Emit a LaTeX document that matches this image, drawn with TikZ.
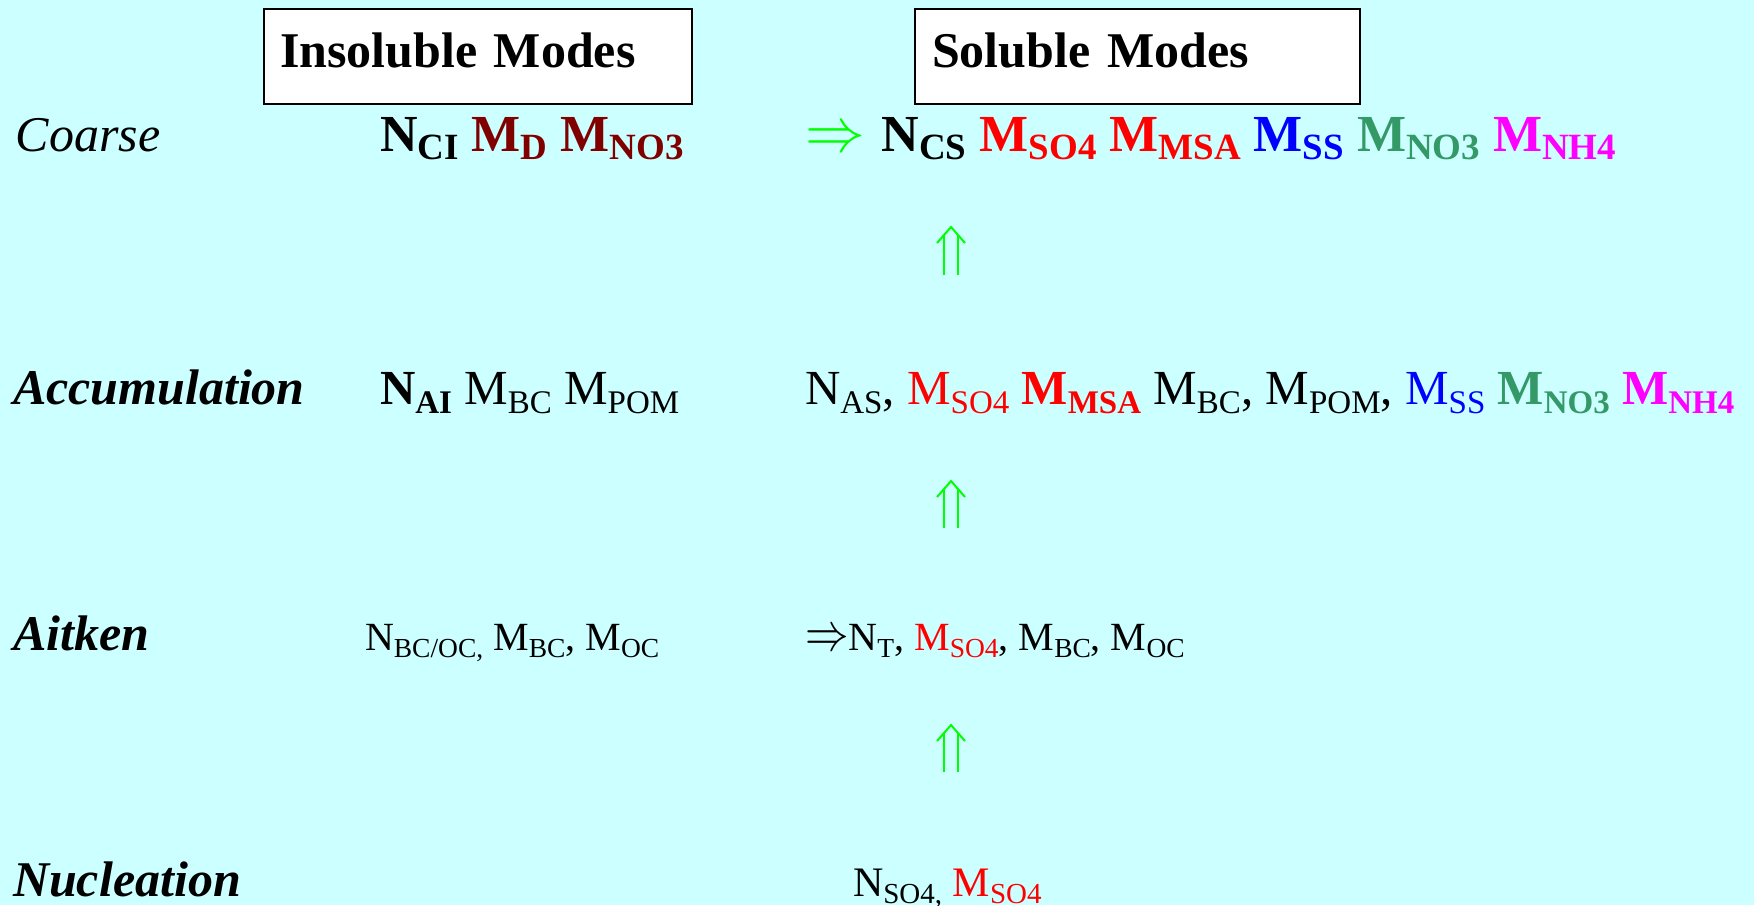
\documentclass[tikz,border=0pt]{standalone}
\usepackage{fontspec}
\setmainfont{Liberation Serif}
\usepackage{graphicx}

\definecolor{paper}{RGB}{204,255,255}
\definecolor{maroon}{RGB}{128,0,0}
\definecolor{seagreen}{RGB}{51,153,102}
\definecolor{arrowgreen}{RGB}{0,255,0}
\definecolor{ammonium}{RGB}{255,0,255}

% lowered, smaller species index; size and drop are set by the row style
\newcommand\low[1]{\raisebox{-\lowdrop}{\fontsize{\lowsize}{\lowsize}\selectfont #1}}

\tikzset{
  txt/.style={anchor=base west, inner sep=0pt, outer sep=0pt},
  modelabel/.style={txt, font=\fontsize{25pt}{25pt}\selectfont\bfseries\itshape},
  rowone/.style={txt, font=\fontsize{26pt}{26pt}\selectfont\bfseries\def\lowsize{18.5pt}\def\lowdrop{4pt}},
  rowtwo/.style={txt, font=\fontsize{24.5pt}{24.5pt}\selectfont\def\lowsize{16.5pt}\def\lowdrop{4.5pt}},
  rowthree/.style={txt, font=\fontsize{20pt}{20pt}\selectfont\def\lowsize{13.75pt}\def\lowdrop{3.5pt}},
  rowfour/.style={txt, font=\fontsize{21pt}{21pt}\selectfont\def\lowsize{14.5pt}\def\lowdrop{3.5pt}},
  titlebox/.style={draw=black, line width=0.75pt, fill=white, anchor=north west,
    outer sep=0pt, inner ysep=0pt, text height=29pt, text depth=18.5pt, align=left,
    font=\fontsize{25pt}{25pt}\selectfont\bfseries},
  growth/.style={draw=arrowgreen, line width=1pt, line join=miter},
}

\begin{document}
\begin{tikzpicture}[x=0.5pt,y=-0.5pt]
  % page and background
  \useasboundingbox (0,0) rectangle (1754,905);
  \fill[paper] (0,0) rectangle (1754,905);

  % column headings
  \node[titlebox, text width=198pt, inner xsep=8pt] (insoluble) at (264,9) {Insoluble Modes};
  \node[titlebox, text width=205.5pt, inner xsep=8.5pt] (soluble) at (915,9) {Soluble Modes};

  % coarse mode
  \node[modelabel, font=\fontsize{25pt}{25pt}\selectfont\mdseries\itshape] (coarse) at (16,151) {Coarse};
  \node[rowone] (coarseIns) at (380,151) {N\low{CI} \textcolor{maroon}{M\low{D}} \textcolor{maroon}{M\low{NO3}}};
  \node[rowone] (coarseSol) at (805,151) {\textcolor{arrowgreen}{\scalebox{1.2}[1.25]{$\Rightarrow$}}\hspace{2pt} N\low{CS}
    \textcolor{red}{M\low{SO4}} \textcolor{red}{M\low{MSA}} \textcolor{blue}{M\low{SS}}
    \textcolor{seagreen}{M\low{NO3}} \textcolor{ammonium}{M\low{NH4}}};

  % accumulation mode
  \node[modelabel] (accum) at (13,404) {Accumulation};
  \node[rowtwo] (accumIns) at (380,404) {{\bfseries N\low{AI}} M\low{BC} M\low{POM}};
  \node[rowtwo] (accumSol) at (805,404) {N\low{AS}, \textcolor{red}{M\low{SO4}}
    \textcolor{red}{\bfseries M\low{MSA}} M\low{BC}, M\low{POM}, \textcolor{blue}{M\low{SS}}
    \textcolor{seagreen}{\bfseries M\low{NO3}} \textcolor{ammonium}{\bfseries M\low{NH4}}};

  % Aitken mode
  \node[modelabel] (aitken) at (13,650) {Aitken};
  \node[rowthree] (aitkenIns) at (365,650) {N\low{BC/OC,} M\low{BC}, M\low{OC}};
  \node[rowthree] (aitkenSol) at (805,650) {\scalebox{1.05}[1.3]{$\Rightarrow$}N\low{T},
    \textcolor{red}{M\low{SO4}}, M\low{BC}, M\low{OC}};

  % nucleation mode
  \node[modelabel] (nucl) at (13,896) {Nucleation};
  \node[rowfour] (nuclSol) at (853,896) {N\low{SO4,} \textcolor{red}{M\low{SO4}}};

  % growth arrows between the soluble modes
  \foreach \tip/\tail in {227/275, 481/528, 725/772} {
    \coordinate (tip) at (951,\tip);
    \draw[growth] (937,\tip+16) -- (tip) -- (965,\tip+16);
    \draw[growth] (944,\tip+8) -- (944,\tail);
    \draw[growth] (958,\tip+8) -- (958,\tail);
  }
\end{tikzpicture}
\end{document}
